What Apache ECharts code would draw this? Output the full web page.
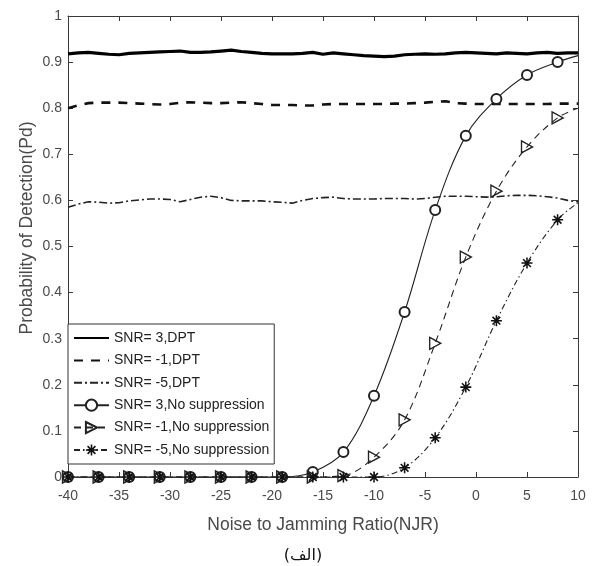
<!DOCTYPE html>
<html>
<head>
<meta charset="utf-8">
<script src="https://cdn.jsdelivr.net/npm/echarts@6/dist/echarts.min.js"></script>
<style>
html,body{margin:0;padding:0;background:#fff;}
#c{width:594px;height:566px;}
</style>
</head>
<body>
<div id="c"></div>
<script>
// x positions of the DPT curves (step 1 dB)
const xDense = [-40,-39,-38,-37,-36,-35,-34,-33,-32,-31,-30,-29,-28,-27,-26,-25,-24,-23,-22,-21,-20,-19,-18,-17,-16,-15,-14,-13,-12,-11,-10,-9,-8,-7,-6,-5,-4,-3,-2,-1,0,1,2,3,4,5,6,7,8,9,10];
const dpt3 = [0.918,0.920,0.921,0.919,0.917,0.916,0.919,0.920,0.921,0.922,0.923,0.924,0.921,0.921,0.922,0.924,0.926,0.923,0.921,0.919,0.918,0.918,0.918,0.919,0.921,0.917,0.920,0.918,0.916,0.914,0.913,0.912,0.913,0.916,0.917,0.918,0.917,0.918,0.920,0.921,0.920,0.919,0.918,0.920,0.919,0.918,0.920,0.921,0.919,0.920,0.920];
const dptM1 = [0.800,0.806,0.811,0.812,0.812,0.812,0.811,0.810,0.809,0.808,0.809,0.812,0.813,0.812,0.811,0.811,0.812,0.813,0.811,0.809,0.807,0.807,0.807,0.806,0.806,0.808,0.809,0.809,0.809,0.809,0.809,0.809,0.810,0.810,0.811,0.812,0.814,0.815,0.811,0.810,0.809,0.809,0.809,0.809,0.809,0.809,0.809,0.809,0.810,0.810,0.810];
const dptM5 = [0.585,0.592,0.597,0.596,0.594,0.595,0.599,0.601,0.603,0.603,0.602,0.597,0.602,0.607,0.609,0.606,0.600,0.599,0.599,0.599,0.597,0.596,0.594,0.600,0.604,0.606,0.607,0.604,0.603,0.603,0.603,0.604,0.604,0.604,0.603,0.604,0.607,0.609,0.609,0.609,0.608,0.607,0.608,0.610,0.611,0.611,0.610,0.608,0.605,0.600,0.597];

// marker positions of the no-suppression curves (step 3 dB) + end point at 10
const xMark = [-40,-37,-34,-31,-28,-25,-22,-19,-16,-13,-10,-7,-4,-1,2,5,8,10];
const ns3  = [0,0,0,0,0,0,0,0,0.011,0.054,0.176,0.358,0.579,0.740,0.820,0.872,0.900,0.914];
const nsM1 = [0,0,0,0,0,0,0,0,0,0.003,0.043,0.124,0.290,0.477,0.620,0.716,0.779,0.800];
const nsM5 = [0,0,0,0,0,0,0,0,0,0,0,0.020,0.085,0.195,0.339,0.464,0.558,0.595];

const names = ['SNR= 3,DPT','SNR= -1,DPT','SNR= -5,DPT','SNR= 3,No suppression','SNR= -1,No suppression','SNR= -5,No suppression'];
const xTicks = [-40,-35,-30,-25,-20,-15,-10,-5,0,5,10];
const yTicks = [0,0.1,0.2,0.3,0.4,0.5,0.6,0.7,0.8,0.9,1];
const xTitle = 'Noise to Jamming Ratio(NJR)';
const yTitle = 'Probability of Detection(Pd)';
const caption = '(الف)';

const starPath = 'path://M0,8.6H20V11.4H0Z M8.6,0H11.4V20H8.6Z M4.0,2.0L18.0,16.0L16.0,18.0L2.0,4.0Z M2.0,16.0L16.0,2.0L18.0,4.0L4.0,18.0Z';
const triPath = 'path://M0,0L17,10L0,20Z';

function pairs(xs, ys, lastNoSymbol) {
  return xs.map((x, i) => {
    if (lastNoSymbol && i === xs.length - 1) return {value: [x, ys[i]], symbol: 'none'};
    return [x, ys[i]];
  });
}

const chart = echarts.init(document.getElementById('c'), null, {renderer: 'canvas'});
const labelColor = '#4a4a4a';
const axisCol = '#3a3a3a';
const font = 'Liberation Sans, Arial, sans-serif';
const hideSym = {color: 'rgba(0,0,0,0)', borderColor: 'rgba(0,0,0,0)', borderWidth: 0, opacity: 0};

chart.setOption({
  animation: false,
  backgroundColor: '#fff',
  grid: {left: 68, right: 16, top: 16, bottom: 89, containLabel: false},
  xAxis: [{
    type: 'value', min: -40, max: 10, interval: 5, position: 'bottom',
    axisLine: {show: true, onZero: false, lineStyle: {color: axisCol, width: 1}},
    axisTick: {show: true, inside: true, length: 5, lineStyle: {color: axisCol}},
    axisLabel: {color: labelColor, fontSize: 14, fontFamily: font, margin: 12,
      formatter: v => xTicks.includes(v) ? String(v) : ''},
    splitLine: {show: false}
  }, {
    type: 'value', min: -40, max: 10, interval: 5, position: 'top',
    axisLine: {show: true, onZero: false, lineStyle: {color: axisCol, width: 1}},
    axisTick: {show: true, inside: true, length: 5, lineStyle: {color: axisCol}},
    axisLabel: {show: false}, splitLine: {show: false}
  }],
  yAxis: [{
    type: 'value', min: 0, max: 1, interval: 0.1, position: 'left',
    axisLine: {show: true, onZero: false, lineStyle: {color: axisCol, width: 1}},
    axisTick: {show: true, inside: true, length: 5, lineStyle: {color: axisCol}},
    axisLabel: {color: labelColor, fontSize: 14, fontFamily: font, margin: 6,
      formatter: v => { const t = yTicks.find(k => Math.abs(k - v) < 1e-6); return t === undefined ? '' : String(t); }},
    splitLine: {show: false}
  }, {
    type: 'value', min: 0, max: 1, interval: 0.1, position: 'right',
    axisLine: {show: true, onZero: false, lineStyle: {color: axisCol, width: 1}},
    axisTick: {show: true, inside: true, length: 5, lineStyle: {color: axisCol}},
    axisLabel: {show: false}, splitLine: {show: false}
  }],
  legend: {
    show: true, orient: 'vertical', left: 68, top: 324,
    padding: [7, 5, 7, 5], itemGap: 8.4, itemWidth: 35, itemHeight: 14,
    backgroundColor: '#fff', borderColor: '#333', borderWidth: 1, borderRadius: 0,
    textStyle: {color: '#222', fontSize: 14, fontFamily: font, lineHeight: 14},
    data: [
      {name: names[0], itemStyle: hideSym},
      {name: names[1], itemStyle: hideSym},
      {name: names[2], itemStyle: hideSym},
      {name: names[3]},
      {name: names[4]},
      {name: names[5]}
    ]
  },
  graphic: [{
    type: 'text', x: 323, y: 525,
    style: {text: xTitle, fill: labelColor, font: '17.5px "Liberation Sans", Arial, sans-serif',
      align: 'center', verticalAlign: 'middle', textAlign: 'center', textVerticalAlign: 'middle'}
  }, {
    type: 'text', x: 27, y: 228, rotation: Math.PI / 2,
    style: {text: yTitle, fill: labelColor, font: '17.5px "Liberation Sans", Arial, sans-serif',
      align: 'center', verticalAlign: 'middle', textAlign: 'center', textVerticalAlign: 'middle'}
  }, {
    type: 'text', x: 303, y: 556,
    style: {text: caption, fill: '#111', font: '16px "DejaVu Sans", sans-serif',
      align: 'center', verticalAlign: 'middle', textAlign: 'center', textVerticalAlign: 'middle'}
  }],
  series: [
    {name: names[0], type: 'line', data: pairs(xDense, dpt3), showSymbol: false, symbol: 'none',
      lineStyle: {color: '#000', width: 3.2}, itemStyle: {color: '#000'}, z: 3},
    {name: names[1], type: 'line', data: pairs(xDense, dptM1), showSymbol: false, symbol: 'none',
      lineStyle: {color: '#111', width: 2.6, type: [9, 8]}, itemStyle: {color: '#111'}, z: 3},
    {name: names[2], type: 'line', data: pairs(xDense, dptM5), showSymbol: false, symbol: 'none',
      lineStyle: {color: '#222', width: 1.6, type: [8, 3, 2, 3]}, itemStyle: {color: '#222'}, z: 3},
    {name: names[3], type: 'line', data: pairs(xMark, ns3, true), smooth: 0.35,
      symbol: 'emptyCircle', symbolSize: 10, showAllSymbol: true,
      lineStyle: {color: '#222', width: 1.1}, itemStyle: {color: '#222', borderColor: '#222', borderWidth: 1.2}, z: 4},
    {name: names[4], type: 'line', data: pairs(xMark, nsM1, true), smooth: 0.35,
      symbol: triPath, symbolSize: [11, 12], showAllSymbol: true,
      lineStyle: {color: '#222', width: 1.1, type: [7, 5]}, itemStyle: {color: 'rgba(255,255,255,0)', borderColor: '#222', borderWidth: 1.4}, z: 4},
    {name: names[5], type: 'line', data: pairs(xMark, nsM5, true), smooth: 0.35,
      symbol: starPath, symbolSize: 11, showAllSymbol: true,
      lineStyle: {color: '#222', width: 1.1, type: [6, 3, 1.5, 3]}, itemStyle: {color: '#111'}, z: 4}
  ]
});
</script>
</body>
</html>
